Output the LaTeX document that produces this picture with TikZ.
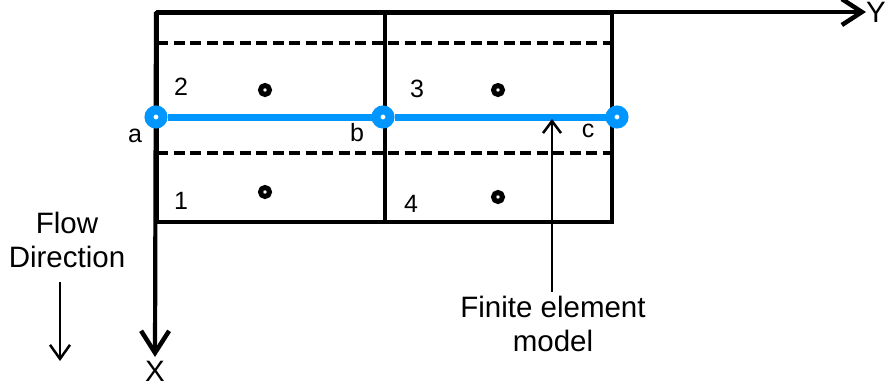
\documentclass[tikz,border=0pt]{standalone}
\usepackage{fontspec}
\setmainfont{Liberation Sans}
\usetikzlibrary{arrows.meta}
\definecolor{fblue}{RGB}{0,150,255}
\begin{document}
\begin{tikzpicture}[x=1pt,y=-1pt,
  boxline/.style={line width=3.2pt},
  dashline/.style={line width=4pt, dash pattern=on 11pt off 5.5pt},
  axis/.style={line width=4.2pt},
  femline/.style={line width=7pt, color=fblue},
  fnode/.style={circle, draw=fblue, line width=9pt, fill=white, minimum size=14pt, inner sep=0pt},
  gdot/.style={circle, draw=black, line width=5pt, fill=white, minimum size=9pt, inner sep=0pt},
  lbl/.style={font=\fontsize{25}{28}\selectfont, inner sep=0pt},
  txt/.style={font=\fontsize{29.5}{34}\selectfont, inner sep=0pt, align=center}]
\useasboundingbox (0,0) rectangle (895,389);
% coordinates
\coordinate (o) at (156,12);
\coordinate (yend) at (866,12);
\coordinate (xend) at (155,357);
% grid box
\draw[boxline] (157,13) rectangle (612,222);
\draw[boxline] (385,13) -- (385,222);
\draw[dashline] (157,43) -- (612,43);
\draw[dashline] (157,153) -- (612,153);
% axes
\draw[axis, -{Straight Barb[length=20pt,width=26pt,line width=4.5pt]}] (o) -- (yend);
\draw[axis, -{Straight Barb[length=22pt,width=28pt,line width=4.5pt]}] (o) -- (xend);
\node[txt, anchor=west] (ylab) at (866,12) {Y};
\node[txt] (xlab) at (155,371) {X};
% FE model
\node[fnode] (a) at (156,117) {};
\node[fnode] (b) at (383,117) {};
\node[fnode] (c) at (617,117) {};
\draw[femline] (a) -- (b);
\draw[femline] (b) -- (c);
\node[lbl] (la) at (135,136) {a};
\node[lbl] (lb) at (357,133) {b};
\node[lbl] (lc) at (588,131) {c};
% grid points
\node[gdot] (p2) at (265,90) {};
\node[gdot] (p1) at (265,192) {};
\node[gdot] (p3) at (498,90) {};
\node[gdot] (p4) at (498,197) {};
\node[lbl] (n2) at (181,87) {2};
\node[lbl] (n1) at (181,201) {1};
\node[lbl] (n3) at (417,89) {3};
\node[lbl] (n4) at (411,204) {4};
% finite element label
\node[txt] (fe) at (553,324) {Finite element\\model};
\coordinate (fetip) at (552,119);
\draw[line width=2.5pt, -{Straight Barb[length=12pt,width=18pt,line width=2.5pt]}] (552,292) -- (fetip);
% flow direction
\node[txt] (flow) at (67,240) {Flow\\Direction};
\coordinate (fstart) at (60,282);
\coordinate (fend) at (60,361);
\draw[line width=2.5pt, -{Straight Barb[length=14pt,width=20pt,line width=2.5pt]}] (fstart) -- (fend);
\end{tikzpicture}
\end{document}
